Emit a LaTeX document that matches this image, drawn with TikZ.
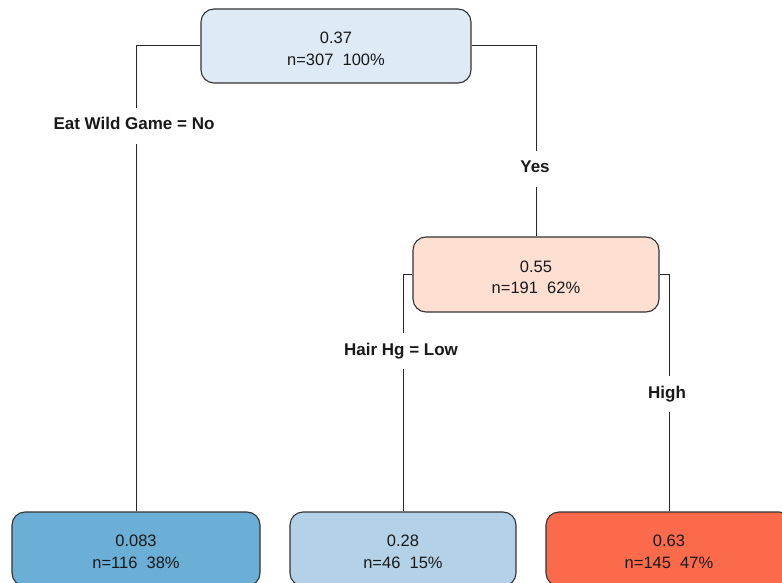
\documentclass[tikz,border=0pt]{standalone}
\usepackage{fontspec}
\setmainfont{Liberation Sans}
\begin{document}
\begin{tikzpicture}[x=1pt,y=-1pt,
  treebox/.style={draw=black!80, line width=1.1pt, rounded corners=13pt,
    inner sep=0pt},
  boxtext/.style={align=center, inner sep=0pt,
    font=\fontsize{16.5}{21.5}\selectfont, text=black!90},
  splitlabel/.style={fill=white, inner xsep=3pt, inner ysep=10pt,
    text height=12pt, text depth=4pt, font=\fontsize{17}{20}\selectfont\bfseries,
    text=black!90},
  edge/.style={draw=black!85, line width=1pt}]
  \definecolor{rootfill}{HTML}{DEEBF7}
  \definecolor{midfill}{HTML}{FDE0D2}
  \definecolor{leafa}{HTML}{6BAED6}
  \definecolor{leafb}{HTML}{B3D2E8}
  \definecolor{leafc}{HTML}{FB6A4A}
  \useasboundingbox (0,0) rectangle (782,583);
  \clip (0,0) rectangle (782,583);
  \fill[white] (0,0) rectangle (782,583);

  % decision nodes
  \node[treebox, fill=rootfill, minimum width=270pt, minimum height=74pt]
    (root) at (336,46) {};
  \node[boxtext] (root-t) at (336,49) {0.37\\n=307\ \ 100\%};
  \node[treebox, fill=midfill, minimum width=246pt, minimum height=75pt]
    (mid) at (536,274.5) {};
  \node[boxtext] (mid-t) at (536,277.5) {0.55\\n=191\ \ 62\%};

  % leaves
  \node[treebox, fill=leafa, minimum width=248pt, minimum height=74pt]
    (l1) at (136,549) {};
  \node[boxtext] (l1-t) at (136,552) {0.083\\n=116\ \ 38\%};
  \node[treebox, fill=leafb, minimum width=226pt, minimum height=74pt]
    (l2) at (403,549) {};
  \node[boxtext] (l2-t) at (403,552) {0.28\\n=46\ \ 15\%};
  \node[treebox, fill=leafc, minimum width=246pt, minimum height=74pt]
    (l3) at (669,549) {};
  \node[boxtext] (l3-t) at (669,552) {0.63\\n=145\ \ 47\%};

  % branches
  \draw[edge] (root.west) -| (l1.north);
  \draw[edge] (root.east) -| (mid.north);
  \draw[edge] (mid.west) -| (l2.north);
  \draw[edge] (mid.east) -| (l3.north);

  % split labels
  \node[splitlabel, anchor=base] (lab1) at (134,130) {Eat Wild Game = No};
  \node[splitlabel, anchor=base] (lab2) at (535,173) {Yes};
  \node[splitlabel, anchor=base] (lab3) at (401,355) {Hair Hg = Low};
  \node[splitlabel, anchor=base] (lab4) at (667,398) {High};
\end{tikzpicture}
\end{document}
